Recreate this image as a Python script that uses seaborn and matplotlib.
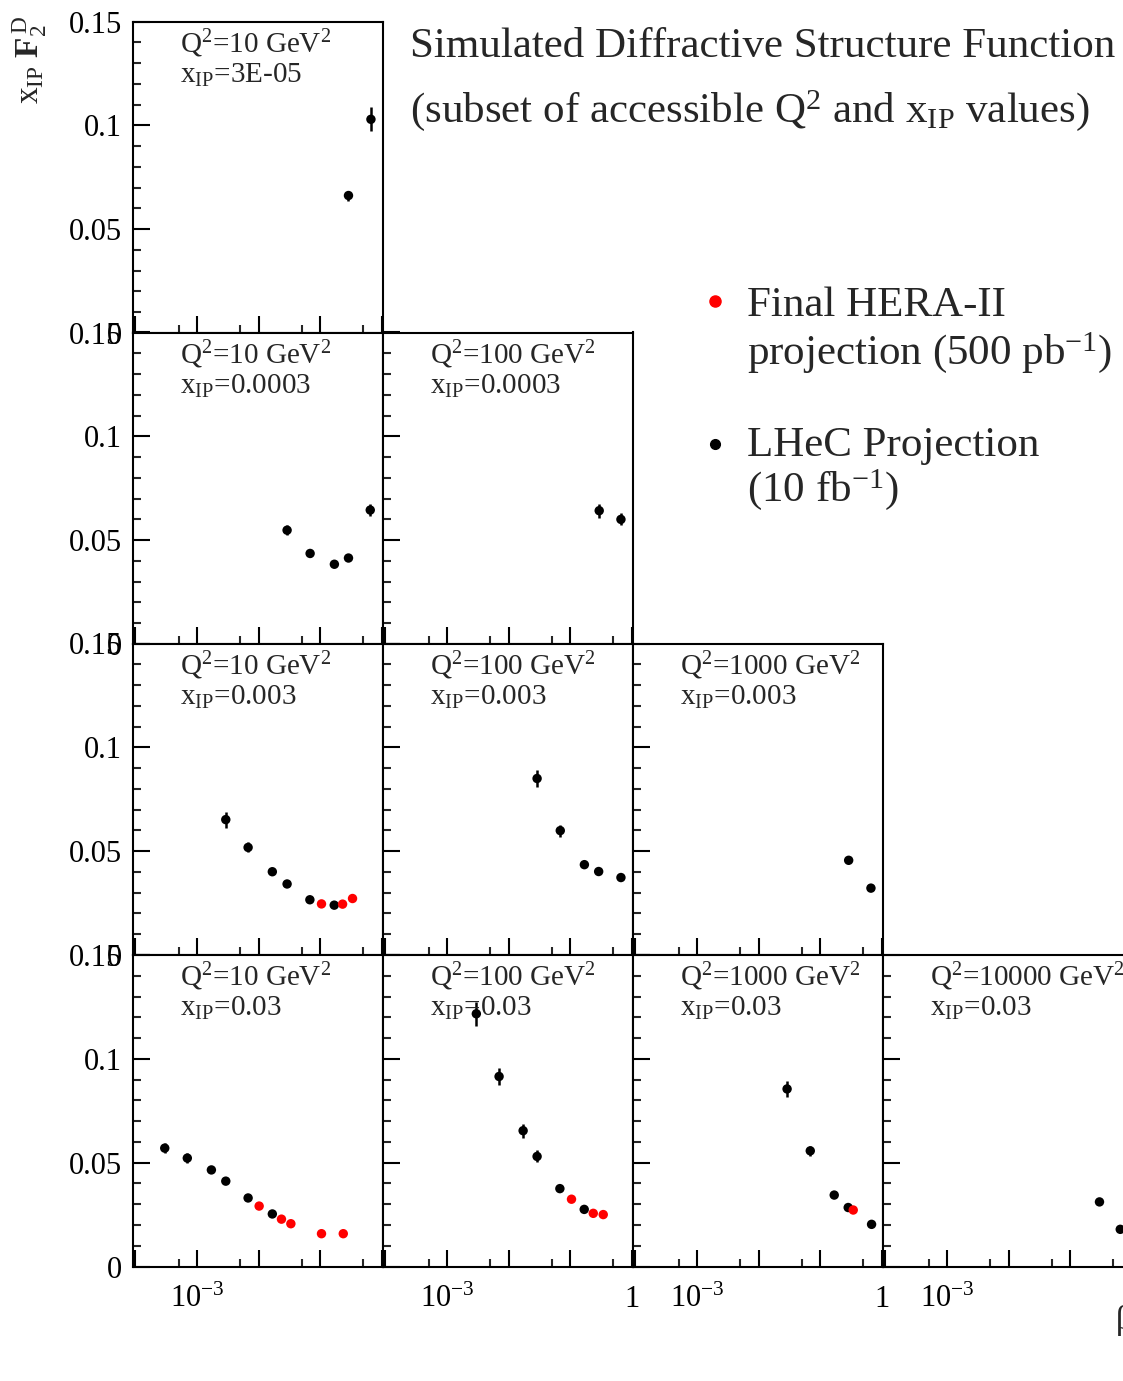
import numpy as np
import pandas as pd
import matplotlib
matplotlib.use("Agg")
import matplotlib.pyplot as plt
import seaborn as sns
from matplotlib.ticker import FixedLocator, FixedFormatter, MultipleLocator
from matplotlib.lines import Line2D

# ---------------- data ----------------
q2_labels = ["10", "100", "1000", "10000"]
xip_labels = ["3E-05", "0.0003", "0.003", "0.03"]

# row 0 : x_IP = 3E-05
lhec_b_00 = [0.288, 0.667]
lhec_f_00 = [0.0662, 0.1029]
lhec_e_00 = [0.0024, 0.0058]

# row 1 : x_IP = 0.0003
lhec_b_10 = [0.029, 0.0686, 0.170, 0.288, 0.650]
lhec_f_10 = [0.0548, 0.0436, 0.0384, 0.0414, 0.0645]
lhec_e_10 = [0.0024, 0.0015, 0.0010, 0.0012, 0.0029]
lhec_b_11 = [0.296, 0.667]
lhec_f_11 = [0.0642, 0.0600]
lhec_e_11 = [0.0034, 0.0029]

# row 2 : x_IP = 0.003
lhec_b_20 = [0.00293, 0.00675, 0.0167, 0.029, 0.068, 0.169]
lhec_f_20 = [0.0652, 0.0518, 0.0401, 0.0342, 0.0266, 0.0240]
lhec_e_20 = [0.0039, 0.0024, 0.0008, 0.0015, 0.0010, 0.0008]
hera_b_20 = [0.105, 0.231, 0.335]
hera_f_20 = [0.0246, 0.0245, 0.0272]
hera_e_20 = [0.0008, 0.0008, 0.0006]
lhec_b_21 = [0.029, 0.069, 0.170, 0.290, 0.667]
lhec_f_21 = [0.0850, 0.0599, 0.0435, 0.0402, 0.0373]
lhec_e_21 = [0.0043, 0.0029, 0.0015, 0.0008, 0.0010]
lhec_b_22 = [0.290, 0.667]
lhec_f_22 = [0.0456, 0.0322]
lhec_e_22 = [0.0012, 0.0010]

# row 3 : x_IP = 0.03
lhec_b_30 = [0.000299, 0.000695, 0.00171, 0.00293, 0.00675, 0.0167]
lhec_f_30 = [0.0570, 0.0522, 0.0465, 0.0411, 0.0330, 0.0253]
lhec_e_30 = [0.0024, 0.0024, 0.0015, 0.0015, 0.0010, 0.0010]
hera_b_30 = [0.0102, 0.0235, 0.0334, 0.105, 0.237]
hera_f_30 = [0.0291, 0.0228, 0.0206, 0.0158, 0.0158]
hera_e_30 = [0.0006, 0.0006, 0.0006, 0.0008, 0.0008]
lhec_b_31 = [0.00299, 0.0070, 0.0172, 0.029, 0.068, 0.169]
lhec_f_31 = [0.1217, 0.0915, 0.0654, 0.0530, 0.0375, 0.0275]
lhec_e_31 = [0.0058, 0.0043, 0.0034, 0.0029, 0.0010, 0.0008]
hera_b_31 = [0.105, 0.237, 0.344]
hera_f_31 = [0.0324, 0.0256, 0.0250]
hera_e_31 = [0.0010, 0.0006, 0.0006]
lhec_b_32 = [0.029, 0.069, 0.169, 0.285, 0.683]
lhec_f_32 = [0.0855, 0.0557, 0.0344, 0.0284, 0.0203]
lhec_e_32 = [0.0039, 0.0024, 0.0008, 0.0010, 0.0010]
hera_b_32 = [0.344]
hera_f_32 = [0.0272]
hera_e_32 = [0.0006]
lhec_b_33 = [0.299, 0.650]
lhec_f_33 = [0.0311, 0.0179]
lhec_e_33 = [0.0010, 0.0010]

x_major = [1e-4, 1e-3, 1e-2, 1e-1, 1.0]
x_minor = [5e-4, 5e-3, 5e-2, 5e-1]
y_major = [0.0, 0.05, 0.10, 0.15]
y_major_labels = ["0", "0.05", "0.1", "0.15"]

# ---------------- assemble long-form table ----------------
panels = {
    (0, 0): (lhec_b_00, lhec_f_00, lhec_e_00, [], [], []),
    (1, 0): (lhec_b_10, lhec_f_10, lhec_e_10, [], [], []),
    (1, 1): (lhec_b_11, lhec_f_11, lhec_e_11, [], [], []),
    (2, 0): (lhec_b_20, lhec_f_20, lhec_e_20, hera_b_20, hera_f_20, hera_e_20),
    (2, 1): (lhec_b_21, lhec_f_21, lhec_e_21, [], [], []),
    (2, 2): (lhec_b_22, lhec_f_22, lhec_e_22, [], [], []),
    (3, 0): (lhec_b_30, lhec_f_30, lhec_e_30, hera_b_30, hera_f_30, hera_e_30),
    (3, 1): (lhec_b_31, lhec_f_31, lhec_e_31, hera_b_31, hera_f_31, hera_e_31),
    (3, 2): (lhec_b_32, lhec_f_32, lhec_e_32, hera_b_32, hera_f_32, hera_e_32),
    (3, 3): (lhec_b_33, lhec_f_33, lhec_e_33, [], [], []),
}
rows = []
for (r, c), (lb, lf, le, hb, hf, he) in panels.items():
    for b, f, e in zip(lb, lf, le):
        rows.append(dict(row=r, col=c, src="LHeC", beta=b, f2=f, err=e))
    for b, f, e in zip(hb, hf, he):
        rows.append(dict(row=r, col=c, src="HERA", beta=b, f2=f, err=e))
df = pd.DataFrame(rows)
palette = {"LHeC": "black", "HERA": "#ff0000"}

# ---------------- style ----------------
sns.set_style("ticks")
plt.rcParams["font.family"] = ["Liberation Serif", "DejaVu Serif"]
plt.rcParams["mathtext.fontset"] = "custom"
plt.rcParams["mathtext.rm"] = "Liberation Serif"
plt.rcParams["mathtext.it"] = "Liberation Serif:italic"
plt.rcParams["mathtext.bf"] = "Liberation Serif:bold"

W, H = 1123, 1381
fig = plt.figure(figsize=(W / 100, H / 100), dpi=100)
fig.patch.set_facecolor("white")

col_left = [133, 383, 633, 883]
row_top = [21.5, 332.5, 643.5, 955.0]
pw, ph = 250, 311.5

for (r, c) in panels:
    L, T = col_left[c], row_top[r]
    ax = fig.add_axes([L / W, 1 - (T + ph) / H, pw / W, ph / H])
    ax.set_facecolor("white")
    ax.set_xscale("log")
    ax.set_xlim(10 ** -4.04, 10 ** 0.02)
    ax.set_ylim(0, 0.15)
    sub = df[(df.row == r) & (df.col == c)]
    for src, g in sub.groupby("src"):
        ax.errorbar(g.beta, g.f2, yerr=g.err, fmt="none", ecolor=palette[src],
                    elinewidth=1.8, capsize=0, zorder=2)
    sns.scatterplot(data=sub, x="beta", y="f2", hue="src", palette=palette,
                    marker="o", s=46, edgecolor="none", legend=False, ax=ax, zorder=3)
    ax.set_xlabel("")
    ax.set_ylabel("")

    ax.xaxis.set_major_locator(FixedLocator(x_major))
    ax.xaxis.set_minor_locator(FixedLocator(x_minor))
    if r == 3:
        xl = ["", r"$10^{-3}$", "", "", "1" if c in (1, 2) else ""]
    else:
        xl = [""] * 5
    ax.xaxis.set_major_formatter(FixedFormatter(xl))
    ax.xaxis.set_minor_formatter(FixedFormatter([""] * 4))

    ax.yaxis.set_major_locator(FixedLocator(y_major))
    ax.yaxis.set_minor_locator(MultipleLocator(0.01))
    ax.yaxis.set_major_formatter(FixedFormatter(y_major_labels if c == 0 else [""] * 4))

    ax.tick_params(axis="both", which="major", direction="in", length=12, width=1.5,
                   top=False, right=False, labelsize=22, colors="black")
    ax.tick_params(axis="both", which="minor", direction="in", length=6, width=1.5,
                   top=False, right=False)
    ax.tick_params(axis="y", which="major", pad=8)
    ax.tick_params(axis="x", which="major", pad=13)
    for s in ax.spines.values():
        s.set_linewidth(1.5)
        s.set_color("black")
        s.set_visible(True)

    ax.text(0.188, 1 - 31 / ph, r"Q$^{2}$=" + q2_labels[c] + r" GeV$^{2}$",
            transform=ax.transAxes, fontsize=21, va="baseline", ha="left")
    ax.text(0.188, 1 - 61 / ph, r"x$_{\mathrm{IP}}$=" + xip_labels[r],
            transform=ax.transAxes, fontsize=21, va="baseline", ha="left")

# ---------------- titles, axis labels, legend ----------------
fig.text(410 / W, 1 - 57 / H, "Simulated Diffractive Structure Function",
         fontsize=31, va="baseline", ha="left")
fig.text(410 / W, 1 - 122 / H,
         r"(subset of accessible Q$^{2}$ and x$_{\mathrm{IP}}$ values)",
         fontsize=31, va="baseline", ha="left")

fig.text(30 / W, 1 - 16 / H, r"x$_{\mathrm{IP}}$ $\mathbf{F}_{2}^{\,\mathrm{D}}$",
         rotation=90, fontsize=24, va="top", ha="center")
fig.text(1116 / W, 1 - 1305 / H, "β", fontsize=24, va="top", ha="left")

leg_x = 747 / W
fig.add_artist(Line2D([715 / W], [1 - 301 / H], marker="o", color="#ff0000",
                      markersize=8, linestyle="none", transform=fig.transFigure))
fig.add_artist(Line2D([715 / W], [1 - 444 / H], marker="o", color="black",
                      markersize=7, linestyle="none", transform=fig.transFigure))
fig.text(leg_x, 1 - 316 / H, "Final HERA-II", fontsize=31, va="baseline", ha="left")
fig.text(leg_x, 1 - 364 / H, r"projection (500 pb$^{-1}$)", fontsize=31,
         va="baseline", ha="left")
fig.text(leg_x, 1 - 456 / H, "LHeC Projection", fontsize=31, va="baseline", ha="left")
fig.text(leg_x, 1 - 501 / H, r"(10 fb$^{-1}$)", fontsize=31, va="baseline", ha="left")

fig.savefig("out.png", dpi=100, facecolor="white")
